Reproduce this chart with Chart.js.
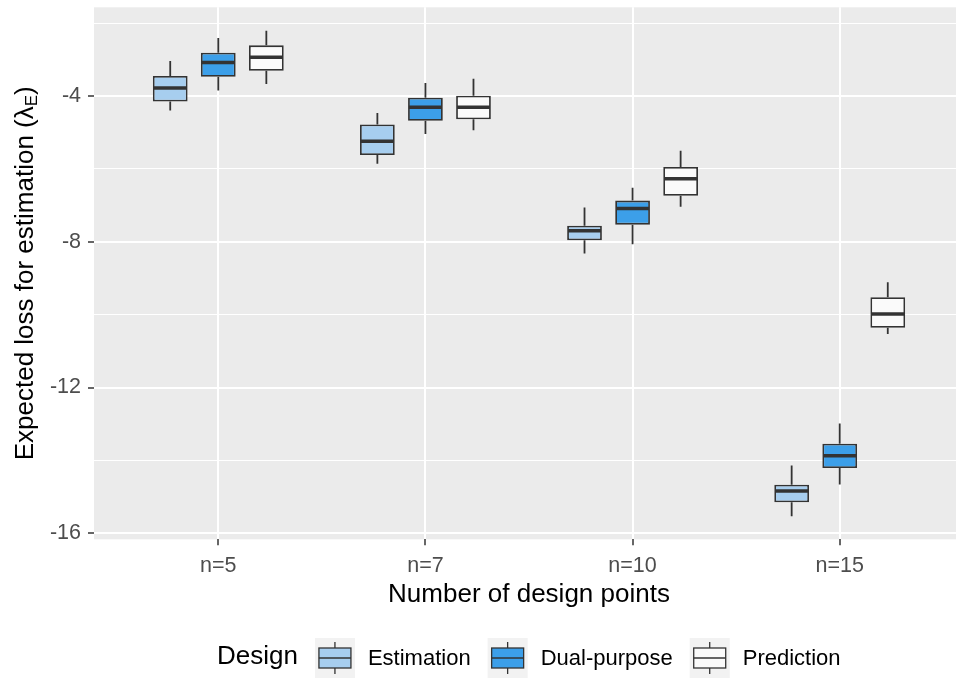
<!DOCTYPE html>
<html>
<head>
<meta charset="utf-8">
<script src="https://cdn.jsdelivr.net/npm/chart.js@4"></script>
<style>
html, body { margin: 0; padding: 0; background: #fff; overflow: hidden; }
</style>
</head>
<body>
<canvas id="chart" width="964" height="678"></canvas>
<script>
// box stats per category: [min, q1, median, q3, max]
const categories = ['n=5', 'n=7', 'n=10', 'n=15'];
const estimation = [
    [-4.40, -4.15, -3.78, -3.45, -3.04],
    [-5.86, -5.62, -5.24, -4.78, -4.47],
    [-8.32, -7.96, -7.70, -7.56, -7.06],
    [-15.53, -15.15, -14.84, -14.67, -14.14],
];
const dualPurpose = [
    [-3.85, -3.47, -3.08, -2.81, -2.41],
    [-5.04, -4.68, -4.31, -4.05, -3.64],
    [-8.07, -7.53, -7.09, -6.87, -6.52],
    [-14.66, -14.21, -13.87, -13.54, -12.99],
];
const prediction = [
    [-3.67, -3.31, -2.94, -2.61, -2.21],
    [-4.94, -4.64, -4.31, -3.99, -3.53],
    [-7.04, -6.74, -6.27, -5.95, -5.50],
    [-10.53, -10.36, -9.98, -9.52, -9.11],
];
const designs = ['Estimation', 'Dual-purpose', 'Prediction'];
const yMajor = [-16, -12, -8, -4];
const yMinor = [-14, -10, -6, -2];

const FONT = '"Liberation Sans", Arial, sans-serif';
const INK = '#333333';
const fills = ['#A7CEEF', '#3C9FE9', '#FAFAFA'];

Chart.defaults.font.family = FONT;

const series = [estimation, dualPurpose, prediction];
const datasets = series.map((rows, k) => ({
    label: designs[k],
    data: rows.map((r, i) => ({ x: i, y: [r[1], r[3]] })),
    stats: rows,
    backgroundColor: fills[k],
    borderColor: INK,
    borderWidth: 1.8,
    borderSkipped: false,
    categoryPercentage: 0.696,
    barPercentage: 0.723
}));

// grey panel behind grid
const panelBg = {
    id: 'panelBg',
    beforeDraw(chart) {
        const { ctx, chartArea: a } = chart;
        ctx.save();
        ctx.fillStyle = '#fff';
        ctx.fillRect(0, 0, chart.width, chart.height);
        ctx.fillStyle = '#EBEBEB';
        ctx.fillRect(a.left, a.top, a.right - a.left, a.bottom - a.top);
        ctx.restore();
    }
};

// whiskers + median on top of the floating bars
const boxWhiskers = {
    id: 'boxWhiskers',
    afterDatasetsDraw(chart) {
        const ctx = chart.ctx, y = chart.scales.y;
        chart.data.datasets.forEach((ds, d) => {
            chart.getDatasetMeta(d).data.forEach((bar, i) => {
                const [lo, q1, med, q3, hi] = ds.stats[i];
                const half = bar.width / 2 - 0.9;
                ctx.save();
                ctx.strokeStyle = INK;
                ctx.lineWidth = 1.8;
                ctx.beginPath();
                ctx.moveTo(bar.x, y.getPixelForValue(hi));
                ctx.lineTo(bar.x, y.getPixelForValue(q3));
                ctx.moveTo(bar.x, y.getPixelForValue(q1));
                ctx.lineTo(bar.x, y.getPixelForValue(lo));
                ctx.stroke();
                ctx.lineWidth = 3.5;
                ctx.beginPath();
                ctx.moveTo(bar.x - half, y.getPixelForValue(med));
                ctx.lineTo(bar.x + half, y.getPixelForValue(med));
                ctx.stroke();
                ctx.restore();
            });
        });
    }
};

// y title with subscript, and the bottom legend
const extras = {
    id: 'extras',
    afterDraw(chart) {
        const { ctx, chartArea: a } = chart;
        ctx.save();
        ctx.fillStyle = '#000';
        ctx.textBaseline = 'alphabetic';
        ctx.textAlign = 'left';

        const main = 'Expected loss for estimation (\u03BB', sub = 'E', tail = ')';
        ctx.font = '26px ' + FONT;
        const w1 = ctx.measureText(main).width, w3 = ctx.measureText(tail).width;
        ctx.font = '17px ' + FONT;
        const w2 = ctx.measureText(sub).width;
        ctx.translate(33, (a.top + a.bottom) / 2);
        ctx.rotate(-Math.PI / 2);
        let tx = -(w1 + w2 + w3) / 2;
        ctx.font = '26px ' + FONT;
        ctx.fillText(main, tx, 0);
        tx += w1;
        ctx.font = '17px ' + FONT;
        ctx.fillText(sub, tx, 4);
        tx += w2;
        ctx.font = '26px ' + FONT;
        ctx.fillText(tail, tx, 0);
        ctx.setTransform(1, 0, 0, 1, 0, 0);

        // legend
        const cy = 658, key = 40;
        let x = 217;
        ctx.font = '26px ' + FONT;
        ctx.fillText('Design', x, 664);
        x += ctx.measureText('Design').width + 17;
        chart.data.datasets.forEach(ds => {
            ctx.fillStyle = '#F2F2F2';
            ctx.fillRect(x, cy - key / 2, key, key);
            ctx.strokeStyle = INK;
            ctx.lineWidth = 1.3;
            ctx.beginPath();
            ctx.moveTo(x + key / 2, cy - 16);
            ctx.lineTo(x + key / 2, cy - 10);
            ctx.moveTo(x + key / 2, cy + 10);
            ctx.lineTo(x + key / 2, cy + 16);
            ctx.stroke();
            ctx.fillStyle = ds.backgroundColor;
            ctx.fillRect(x + 4, cy - 10, key - 8, 20);
            ctx.strokeRect(x + 4, cy - 10, key - 8, 20);
            ctx.beginPath();
            ctx.moveTo(x + 4, cy);
            ctx.lineTo(x + key - 4, cy);
            ctx.stroke();
            x += key + 13;
            ctx.fillStyle = '#000';
            ctx.font = '22px ' + FONT;
            ctx.fillText(ds.label, x, 665);
            x += ctx.measureText(ds.label).width + 17;
        });
        ctx.restore();
    }
};

new Chart(document.getElementById('chart'), {
    type: 'bar',
    data: { datasets },
    options: {
        responsive: false,
        animation: false,
        layout: { padding: { top: 7.3, left: 0, right: 0, bottom: 68 } },
        plugins: { legend: { display: false }, tooltip: { enabled: false } },
        scales: {
            x: {
                type: 'linear',
                min: -0.6,
                max: 3.6,
                offset: false,
                border: { display: false },
                grid: { offset: false, color: '#FFFFFF', lineWidth: 2, tickColor: INK, tickWidth: 1.5, tickLength: 6 },
                afterBuildTicks: s => { s.ticks = categories.map((c, i) => ({ value: i })); },
                ticks: {
                    callback: v => categories[v],
                    color: '#4D4D4D',
                    font: { size: 21.5 },
                    padding: 8,
                    autoSkip: false,
                    maxRotation: 0
                },
                title: { display: true, text: 'Number of design points', color: '#000', font: { size: 26 }, padding: 0 },
                afterFit: s => { s.height = 70.7; s.paddingLeft = 0; s.paddingRight = 0; }
            },
            y: {
                min: -16.165,
                max: -1.566,
                beginAtZero: false,
                border: { display: false },
                grid: {
                    color: '#FFFFFF',
                    lineWidth: c => yMajor.includes(c.tick.value) ? 2 : 1,
                    tickColor: c => yMajor.includes(c.tick.value) ? INK : 'rgba(0,0,0,0)',
                    tickWidth: 1.5,
                    tickLength: 6
                },
                afterBuildTicks: s => {
                    s.ticks = yMajor.concat(yMinor).sort((a, b) => a - b).map(v => ({ value: v }));
                },
                ticks: {
                    callback: v => yMajor.includes(v) ? String(v) : '',
                    color: '#4D4D4D',
                    font: { size: 21.5 },
                    padding: 7
                },
                afterFit: s => { s.width = 94; s.paddingTop = 0; s.paddingBottom = 0; }
            }
        }
    },
    plugins: [panelBg, boxWhiskers, extras]
});
</script>
</body>
</html>
